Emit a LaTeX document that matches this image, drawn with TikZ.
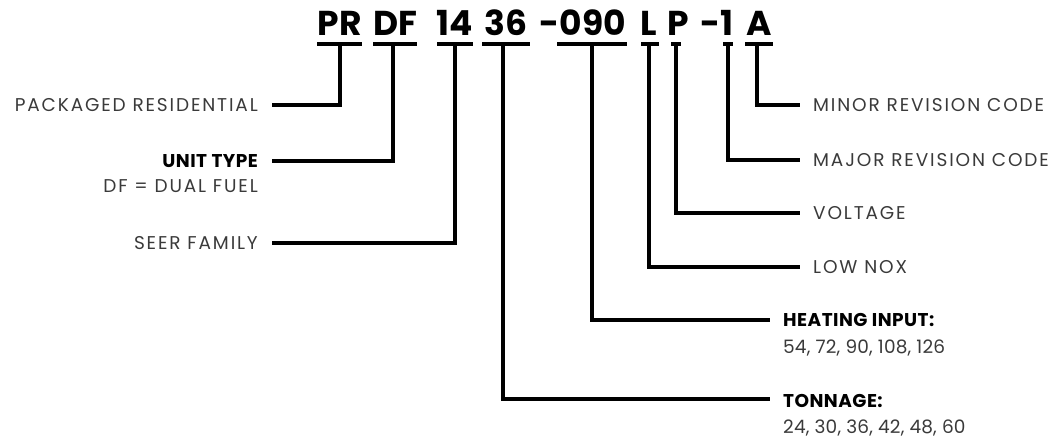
\documentclass[tikz,border=0pt]{standalone}
\usepackage{fontspec}
\setmainfont{Poppins}
\definecolor{lbl}{HTML}{3A3A3A}
\begin{document}
\begin{tikzpicture}[x=1pt,y=-1pt,
  ln/.style={line width=4pt,line cap=butt,line join=miter,black},
  code/.style={font=\fontsize{34.5}{34}\selectfont\bfseries,inner sep=0,anchor=base,text=black},
  lab/.style={font=\fontsize{18.5}{19}\selectfont\addfontfeature{LetterSpace=10},inner sep=0,text=lbl},
  num/.style={font=\fontsize{18.5}{19}\selectfont\addfontfeature{LetterSpace=1},inner sep=0,text=lbl},
  labb/.style={font=\fontsize{18.5}{19}\selectfont\bfseries\addfontfeature{LetterSpace=2.5},inner sep=0,text=black}]
\useasboundingbox (0,0) rectangle (1053,438);
% code letters
\node[code] (c1) at (339.5,35.5) {PR};
\node[code] (c2) at (395,35.5) {DF};
\node[code] (c3) at (455,35.5) {14};
\node[code] (c4) at (506,35.5) {36};
\node[code] (c5) at (583,35.5) {-090};
\node[code] (c6) at (649,35.5) {L};
\node[code] (c7) at (678,35.5) {P};
\node[code] (c8) at (717,35.5) {-1};
\node[code] (c9) at (759,35.5) {A};
% bar tops
\coordinate (b1) at (340,44);
\coordinate (b2) at (393,44);
\coordinate (b3) at (455,44);
\coordinate (b4) at (503,44);
\coordinate (b5) at (592,44);
\coordinate (b6) at (649,44);
\coordinate (b7) at (676,44);
\coordinate (b8) at (728,44);
\coordinate (b9) at (757,44);
% bars
\draw[ln] ([xshift=-23pt]b1) -- ([xshift=22pt]b1);
\draw[ln] ([xshift=-20pt]b2) -- ([xshift=24pt]b2);
\draw[ln] ([xshift=-18pt]b3) -- ([xshift=18pt]b3);
\draw[ln] ([xshift=-21pt]b4) -- ([xshift=27pt]b4);
\draw[ln] ([xshift=-35pt]b5) -- ([xshift=35pt]b5);
\draw[ln] ([xshift=-8pt]b6) -- ([xshift=10pt]b6);
\draw[ln] ([xshift=-5pt]b7) -- ([xshift=5pt]b7);
\draw[ln] ([xshift=-5pt]b8) -- ([xshift=5pt]b8);
\draw[ln] ([xshift=-12pt]b9) -- ([xshift=16pt]b9);
% line ends
\coordinate (e1) at (272,105.5);
\coordinate (e2) at (272,161);
\coordinate (e3) at (272,243);
\coordinate (e4) at (770,399);
\coordinate (e5) at (770,320.5);
\coordinate (e6) at (800,267);
\coordinate (e7) at (800,213);
\coordinate (e8) at (800,160);
\coordinate (e9) at (800,105);
% connectors
\draw[ln] (b1) |- (e1);
\draw[ln] (b2) |- (e2);
\draw[ln] (b3) |- (e3);
\draw[ln] (b4) |- (e4);
\draw[ln] (b5) |- (e5);
\draw[ln] (b6) |- (e6);
\draw[ln] (b7) |- (e7);
\draw[ln] (b8) |- (e8);
\draw[ln] (b9) |- (e9);
% left labels
\node[lab,anchor=base east] (l1) at (258,112) {PACKAGED RESIDENTIAL};
\node[labb,anchor=base east] (l2) at (258,167.5) {UNIT TYPE};
\node[lab,anchor=base east] (l2b) at (258,193) {DF = DUAL FUEL};
\node[lab,anchor=base east] (l3) at (258,249.5) {SEER FAMILY};
% right labels
\node[lab,anchor=base west] (r9) at (813,111.5) {MINOR REVISION CODE};
\node[lab,anchor=base west] (r8) at (813,166.5) {MAJOR REVISION CODE};
\node[lab,anchor=base west] (r7) at (813,219.5) {VOLTAGE};
\node[lab,anchor=base west] (r6) at (813,273.5) {LOW NOX};
\node[labb,anchor=base west] (r5) at (783,327) {HEATING INPUT:};
\node[num,anchor=base west] (r5b) at (783,353.5) {54, 72, 90, 108, 126};
\node[labb,anchor=base west] (r4) at (783,407) {TONNAGE:};
\node[num,anchor=base west] (r4b) at (783,433.5) {24, 30, 36, 42, 48, 60};
\end{tikzpicture}
\end{document}
